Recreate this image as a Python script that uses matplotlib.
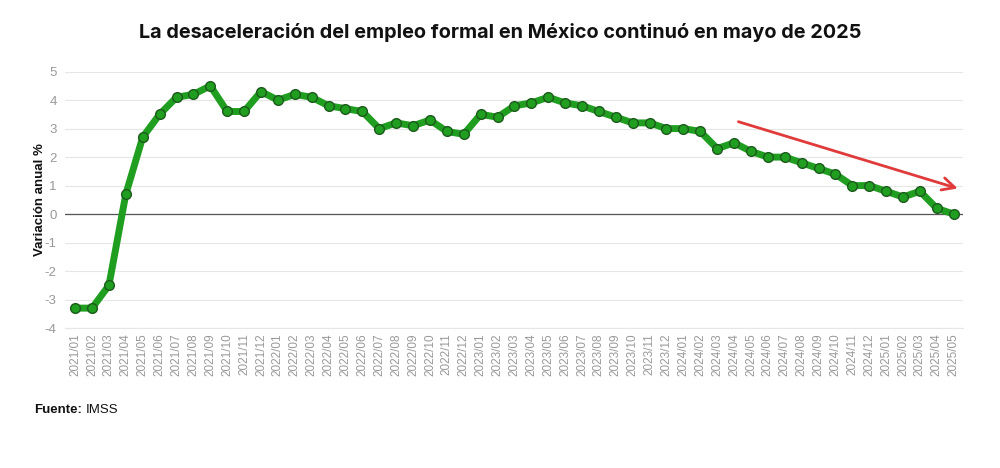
import matplotlib.pyplot as plt

months = ['2021/01', '2021/02', '2021/03', '2021/04', '2021/05', '2021/06', '2021/07', '2021/08', '2021/09', '2021/10', '2021/11', '2021/12',
          '2022/01', '2022/02', '2022/03', '2022/04', '2022/05', '2022/06', '2022/07', '2022/08', '2022/09', '2022/10', '2022/11', '2022/12',
          '2023/01', '2023/02', '2023/03', '2023/04', '2023/05', '2023/06', '2023/07', '2023/08', '2023/09', '2023/10', '2023/11', '2023/12',
          '2024/01', '2024/02', '2024/03', '2024/04', '2024/05', '2024/06', '2024/07', '2024/08', '2024/09', '2024/10', '2024/11', '2024/12',
          '2025/01', '2025/02', '2025/03', '2025/04', '2025/05']

variacion = [-3.3, -3.3, -2.5, 0.7, 2.7, 3.5, 4.1, 4.2, 4.5, 3.6, 3.6, 4.3,
             4.0, 4.2, 4.1, 3.8, 3.7, 3.6, 3.0, 3.2, 3.1, 3.3, 2.9, 2.8,
             3.5, 3.4, 3.8, 3.9, 4.1, 3.9, 3.8, 3.6, 3.4, 3.2, 3.2, 3.0,
             3.0, 2.9, 2.3, 2.5, 2.2, 2.0, 2.0, 1.8, 1.6, 1.4, 1.0, 1.0,
             0.8, 0.6, 0.8, 0.2, 0.0]

yticks = [-4, -3, -2, -1, 0, 1, 2, 3, 4, 5]

# trend arrow (start / end in data coords)
arrow_start = (39.1, 3.27)
arrow_end = (52.4, 0.87)

plt.rcParams['font.family'] = ['Liberation Sans', 'DejaVu Sans']

fig = plt.figure(figsize=(10, 4.68), dpi=100)
ax = fig.add_axes([0.065, 0.299, 0.898, 0.548])

x = list(range(len(months)))
ax.plot(x, variacion, color='#1f9e1f', lw=5, solid_joinstyle='round', zorder=3,
        marker='o', markersize=7, markerfacecolor='#1f9e1f', markeredgecolor='#1d5a1d', markeredgewidth=1)

ax.axhline(0, color='#555555', lw=0.9, zorder=2)
ax.annotate('', xy=arrow_end, xytext=arrow_start,
            arrowprops=dict(arrowstyle='->,head_length=0.9,head_width=0.45', color='#e03a3a', lw=2),
            zorder=4, annotation_clip=False)

ax.set_xlim(-0.6, 52.55)
ax.set_ylim(-4, 5)
ax.set_yticks(yticks)
ax.set_yticklabels([str(v) for v in yticks])
ax.set_xticks(x)
ax.set_xticklabels(months, rotation=90)
ax.grid(axis='y', color='#e6e6e6', lw=0.8)
ax.set_axisbelow(True)
for s in ['top', 'right', 'left']:
    ax.spines[s].set_visible(False)
ax.spines['bottom'].set_color('#e6e6e6')
ax.spines['bottom'].set_linestyle((0, (1, 1)))
ax.tick_params(axis='y', length=0, colors='#999999', labelsize=9.5, pad=6)
ax.tick_params(axis='x', length=0, colors='#999999', labelsize=8.5, pad=4)

ax.set_ylabel('Variación anual %', fontsize=9.5, fontweight='bold', color='#111111', labelpad=-1)

fig.text(0.5, 0.93, 'La desaceleración del empleo formal en México continuó en mayo de 2025',
         ha='center', va='center', fontsize=14.3, fontweight='bold', family=['Inter', 'DejaVu Sans'], color='#111111')
src = fig.text(0.034, 0.123, 'Fuente:', ha='left', va='center', fontsize=9.5, fontweight='bold', color='#111111')
fig.canvas.draw()
bb = src.get_window_extent().transformed(fig.transFigure.inverted())
fig.text(bb.x1 + 0.004, 0.123, 'IMSS', ha='left', va='center', fontsize=9.5, color='#111111')

fig.savefig('out.png', dpi=100, facecolor='white')
